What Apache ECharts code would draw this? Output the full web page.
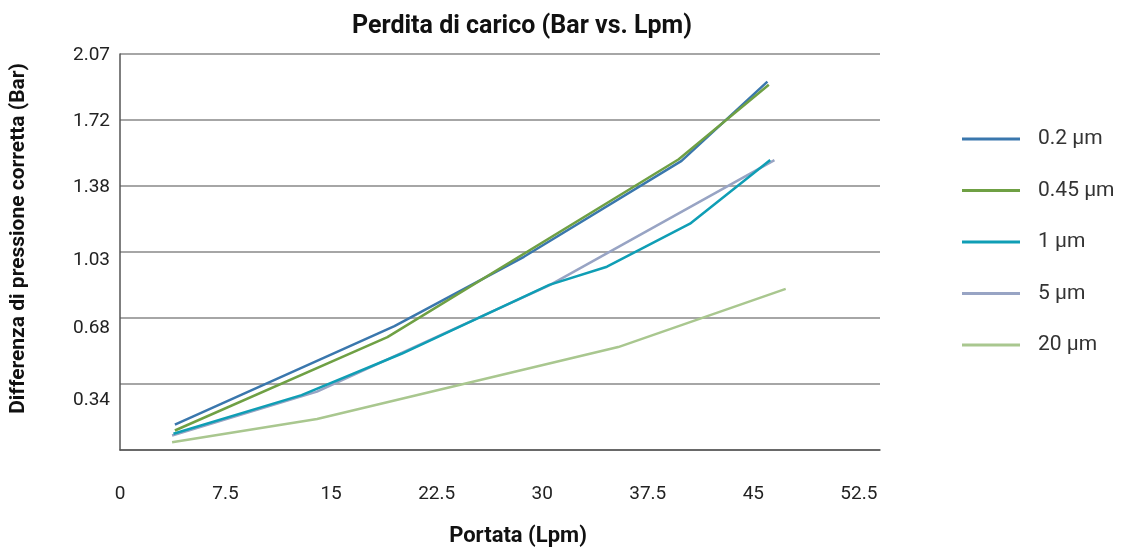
<!DOCTYPE html>
<html>
<head>
<meta charset="utf-8">
<script src="https://cdn.jsdelivr.net/npm/echarts@6/dist/echarts.min.js"></script>
<style>html,body{margin:0;padding:0;background:#fff}#c{width:1129px;height:552px}</style>
</head>
<body>
<div id="c"></div>
<script>
// ---- data ----
const seriesNames = ['0.2 µm', '0.45 µm', '1 µm', '5 µm', '20 µm'];
const x02 = [3.9, 19.5, 28.7, 39.9, 46.0];
const y02 = [0.133, 0.648, 1.010, 1.511, 1.926];
const x045 = [3.9, 19.0, 39.7, 46.1];
const y045 = [0.102, 0.590, 1.520, 1.909];
const x1 = [3.8, 12.9, 20.0, 30.5, 34.6, 40.5, 46.2];
const y1 = [0.085, 0.287, 0.503, 0.863, 0.958, 1.183, 1.516];
const x5 = [3.7, 14.0, 30.5, 46.5];
const y5 = [0.076, 0.305, 0.861, 1.515];
const x20 = [3.7, 14.0, 35.4, 47.3];
const y20 = [0.040, 0.162, 0.538, 0.842];
const yTickLabels = ['', '0.34', '0.68', '1.03', '1.38', '1.72', '2.07'];
const xTickLabels = ['0', '7.5', '15', '22.5', '30', '37.5', '45', '52.5'];

// ---- styling ----
const FONT = 'Roboto, "Liberation Sans", sans-serif';
const colors = ['#3a77ad', '#6fa044', '#0f9eb5', '#98a4c4', '#a9c78f'];
const zOrder = [4, 5, 3, 2, 1];
const yLabelShift = [0, 16, 10, 8.5, 1.3, 1.7, 1]; // px shift down per tick label
const rich = {};
yLabelShift.forEach((d, i) => { rich['o' + i] = { fontFamily: FONT, fontSize: 19, color: '#222', padding: [2 * d, 0, 0, 0] }; });

const xs = [x02, x045, x1, x5, x20];
const ys = [y02, y045, y1, y5, y20];

const chart = echarts.init(document.getElementById('c'), null, { renderer: 'canvas' });
chart.setOption({
  animation: false,
  backgroundColor: '#fff',
  title: {
    text: 'Perdita di carico (Bar vs. Lpm)',
    left: 517, top: 9, textAlign: 'center',
    textStyle: { fontFamily: FONT, fontSize: 25, fontWeight: 'bold', color: '#111' }
  },
  grid: { left: 120, right: 249, top: 54, bottom: 99, containLabel: false },
  legend: {
    orient: 'vertical', left: 957, top: 122,
    icon: 'rect', itemWidth: 58, itemHeight: 3, itemGap: 27.5,
    data: seriesNames,
    textStyle: { fontFamily: FONT, fontSize: 21, color: '#333', lineHeight: 24, padding: [0, 0, 0, 13] }
  },
  xAxis: {
    type: 'value', min: 0, max: 54, interval: 7.5,
    name: 'Portata (Lpm)', nameLocation: 'middle', nameGap: 75,
    nameTextStyle: { fontFamily: FONT, fontSize: 22, fontWeight: 'bold', color: '#111', padding: [0, 0, 0, 36] },
    axisLine: { show: true, lineStyle: { color: '#555', width: 1.5 } },
    axisTick: { show: false },
    splitLine: { show: false },
    axisLabel: {
      margin: 35, fontFamily: FONT, fontSize: 19, color: '#222', showMaxLabel: false,
      formatter: function (v) { const i = Math.round(v / 7.5); return Math.abs(v - i * 7.5) < 1e-6 ? (xTickLabels[i] || '') : ''; }
    }
  },
  yAxis: {
    type: 'value', min: 0, max: 2.07, interval: 0.345,
    name: 'Differenza di pressione corretta (Bar)', nameLocation: 'middle', nameGap: 91, nameRotate: 90,
    nameTextStyle: { fontFamily: FONT, fontSize: 21, fontWeight: 'bold', color: '#111', padding: [0, 0, 0, 27] },
    axisLine: { show: true, lineStyle: { color: '#555', width: 1.5 } },
    axisTick: { show: false },
    splitLine: { show: true, lineStyle: { color: '#888', width: 1.5 } },
    axisLabel: {
      margin: 10, rich: rich,
      formatter: function (v) { const i = Math.round(v / 0.345); const t = yTickLabels[i] || ''; return t ? '{o' + i + '|' + t + '}' : ''; }
    }
  },
  series: seriesNames.map((n, k) => ({
    name: n, type: 'line', showSymbol: false, symbol: 'none', z: zOrder[k],
    color: colors[k],
    lineStyle: { width: 2.5, color: colors[k] },
    data: xs[k].map((x, j) => [x, ys[k][j]])
  }))
});
</script>
</body>
</html>
